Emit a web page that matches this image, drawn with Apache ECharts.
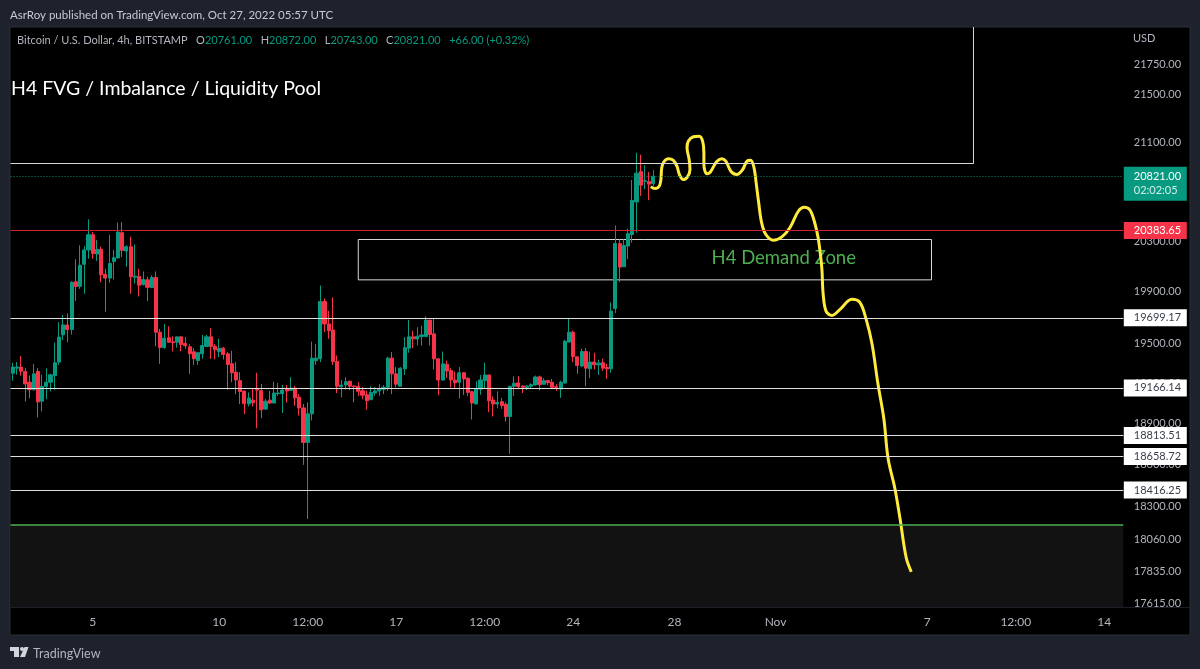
<!DOCTYPE html>
<html>
<head>
<meta charset="utf-8">
<title>BTCUSD H4</title>
<script src="https://cdn.jsdelivr.net/npm/echarts@6/dist/echarts.min.js"></script>
<style>
  html, body { margin: 0; padding: 0; background: #1e222d; }
  #chartContainer { width: 1200px; height: 669px; }
</style>
</head>
<body>
<div id="chartContainer"></div>
<script>
// 4h candles, one row each: [open, close, low, high]
var candles = [
  [19277,19323,19221,19356],[19315,19323,19267,19361],[19323,19292,19259,19406],[19290,19196,19065,19315],
  [19209,19153,19090,19259],[19153,19272,19146,19348],[19290,19062,18947,19315],[19067,19178,18991,19265],
  [19178,19209,19082,19315],[19209,19265,19140,19272],[19259,19356,19153,19508],[19361,19551,19340,19665],
  [19568,19644,19530,19720],[19644,19609,19512,19733],[19609,19976,19571,19984],[19979,19942,19829,20155],
  [19944,20108,19923,20266],[20116,20229,19886,20260],[20229,20350,20160,20473],[20350,20200,20160,20371],
  [20197,20234,20142,20308],[20234,20034,19976,20255],[20037,20008,19746,20081],[20008,20123,19971,20350],
  [20139,20168,19997,20229],[20166,20371,20160,20446],[20366,20226,20173,20451],[20221,20255,20097,20266],
  [20255,20018,19886,20334],[20015,20023,19965,20273],[20021,19952,19865,20081],[19957,19997,19950,20060],
  [19994,19936,19829,20018],[19934,20013,19929,20029],[20013,19589,19480,20060],[19589,19472,19348,19614],
  [19472,19543,19462,19652],[19546,19512,19508,19634],[19515,19508,19442,19558],[19512,19553,19470,19553],
  [19553,19495,19442,19558],[19503,19485,19462,19551],[19477,19424,19272,19497],[19439,19386,19340,19467],
  [19373,19432,19340,19432],[19424,19487,19386,19568],[19480,19553,19477,19568],[19553,19480,19386,19619],
  [19482,19454,19381,19497],[19442,19465,19399,19538],[19467,19419,19381,19475],[19424,19343,19153,19437],
  [19348,19280,19209,19447],[19285,19226,19120,19361],[19221,19140,19045,19285],[19143,19048,18971,19143],
  [19048,19090,19028,19133],[19075,19055,19028,19158],[19158,19150,18866,19280],[19146,19003,18940,19196],
  [19008,19067,19003,19082],[19075,19053,19045,19143],[19053,19128,19053,19214],[19123,19128,19108,19204],
  [19123,19150,18979,19188],[19158,19143,19057,19188],[19148,19165,19146,19247],[19165,19092,19033,19183],
  [19097,19016,18960,19120],[19017,18762,18598,19046],[18762,18973,18208,19059],[18973,19391,18924,19517],
  [19371,19391,19340,19500],[19386,19825,19361,19950],[19825,19652,19589,19850],[19652,19601,19538,19753],
  [19606,19365,19340,19857],[19365,19179,19128,19411],[19175,19188,19095,19226],[19188,19213,19153,19247],
  [19217,19179,19150,19221],[19181,19176,19059,19183],[19179,19141,19107,19209],[19145,19112,19082,19171],
  [19115,19070,19004,19145],[19078,19133,19076,19179],[19128,19143,19107,19171],[19143,19156,19107,19194],
  [19156,19171,19120,19188],[19171,19391,19145,19400],[19391,19272,19120,19437],[19272,19194,19171,19323],
  [19179,19315,19179,19323],[19310,19470,19264,19551],[19467,19553,19432,19682],[19553,19538,19467,19601],
  [19536,19558,19487,19627],[19555,19568,19487,19639],[19555,19682,19551,19711],[19682,19571,19487,19682],
  [19576,19386,19305,19690],[19386,19226,19112,19386],[19226,19348,19221,19441],[19343,19293,19242,19373],
  [19297,19226,19171,19315],[19226,19204,19163,19289],[19209,19280,19088,19323],[19280,19234,19115,19285],
  [19239,19133,19107,19247],[19138,19054,18931,19145],[19046,19158,19046,19217],[19158,19226,19115,19264],
  [19221,19264,19158,19356],[19264,19070,18985,19264],[19076,19046,18953,19103],[19046,19059,19015,19141],
  [19063,19034,19010,19092],[19044,18953,18916,19059],[18953,19179,18679,19179],[19179,19201,19107,19254],
  [19204,19176,19158,19254],[19181,19171,19128,19183],[19168,19179,19150,19188],[19179,19191,19163,19201],
  [19188,19249,19183,19259],[19249,19191,19150,19259],[19194,19221,19188,19239],[19221,19206,19188,19226],
  [19209,19171,19163,19234],[19176,19171,19145,19196],[19158,19209,19092,19221],[19204,19520,19198,19530],
  [19513,19589,19513,19698],[19589,19403,19361,19601],[19401,19335,19272,19401],[19331,19441,19323,19462],
  [19441,19315,19179,19467],[19310,19361,19239,19441],[19361,19340,19305,19432],[19340,19353,19264,19378],
  [19356,19315,19295,19386],[19320,19310,19234,19348],[19310,19751,19280,19817],[19771,20281,19736,20424],
  [20279,20094,19976,20313],[20097,20265,20097,20313],[20260,20358,20155,20398],[20352,20625,20287,20791],
  [20613,20846,20366,21013],[20859,20748,20662,20997],[20780,20785,20716,20910],[20779,20757,20627,20856],
  [20761,20821,20743,20872]
];

var SLOT_COUNT = 264;
var FIRST_SLOT_TIME = Date.UTC(2022, 9, 1, 20);
var tickSlots = [19, 49, 70, 91, 112, 133, 157, 181, 217, 238, 259];
var tickTexts = ["5", "10", "12:00", "17", "12:00", "24", "28", "Nov", "7", "12:00", "14"];

var priceTicks = [21750, 21500, 21100, 20300, 19900, 19500, 19200, 18900, 18600, 18300, 18060, 17835, 17615];
var PRICE_MIN = 17592;
var PRICE_MAX = 22073;

var lastPrice = 20821;
var lastChange = "+66.00 (+0.32%)";
var countdown = "02:02:05";
var redLevel = 20383.65;
var whiteLevels = [19699.17, 19166.14, 18813.51, 18658.72, 18416.25];
var greenLevel = 18165;
var supplyBottom = 20925;
var supplyEndSlot = 228;
var demandZone = [82, 218, 20312, 19994]; // slot from, slot to, price top, price bottom
var demandLabelAt = [165.7, 20168];

// the hand drawn yellow path: position in candle slots and price
var pathSlots = [151.4,152.4,153.4,153.8,154.0,154.5,155.6,156.7,157.6,158.2,159.1,160.1,160.7,160.5,160.0,160.3,
  161.5,162.9,163.7,164.0,164.0,164.7,165.5,167.0,168.2,169.2,170.4,171.8,173.2,174.2,175.1,175.9,176.4,177.0,
  177.7,178.7,180.5,182.5,184.4,186.4,187.8,189.2,190.4,191.1,191.6,192.0,192.3,193.0,194.4,196.3,199.1,201.0,
  202.5,203.9,205.3,206.7,207.7,209.3,210.5,212.0,213.2];
var pathPrices = [20735,20721,20740,20794,20890,20939,20964,20952,20903,20835,20794,20816,20876,20958,21054,21109,
  21145,21150,21109,21013,20917,20841,20854,20939,20964,20944,20862,20835,20876,20944,20952,20890,20767,20606,
  20445,20352,20306,20333,20406,20538,20570,20546,20432,20326,20207,20076,19881,19749,19718,19765,19842,19818,
  19687,19497,19195,18935,18644,18429,18217,17934,17836];

var UP = "#089981";
var DOWN = "#f7334a";
var TEXT = "#b2b5be";
var FONT = "Lato, 'Open Sans', sans-serif";

function buildCategories() {
  let out = [];
  for (let i = 0; i < SLOT_COUNT; i++) {
    out.push(new Date(FIRST_SLOT_TIME + i * 4 * 3600 * 1000).toISOString().slice(0, 16));
  }
  return out;
}

// labels in the price scale hang off this edge of the value x axis
var scaleEdge = SLOT_COUNT - 0.5;

function segment(x1, y1, x2, y2, color, width, type) {
  return [
    { coord: [x1, y1], lineStyle: { color: color, width: width, type: type || "solid" } },
    { coord: [x2, y2] },
  ];
}

function flatLine(price, color, width, type) {
  return segment(-0.5, price, scaleEdge, price, color, width, type);
}

function tag(price, text, bg, fg, offsetY) {
  return {
    value: [scaleEdge, price],
    label: {
      show: true,
      position: "right",
      distance: 0,
      offset: [0, offsetY || 0],
      formatter: text,
      backgroundColor: bg,
      color: fg,
      fontFamily: FONT,
      fontSize: 11,
      width: 53,
      padding: [3, 0, 3, 10],
      rich: {
        top: { color: "#ffffff", fontFamily: FONT, fontSize: 11, width: 53, height: 14 },
        bottom: { color: "#d5efe9", fontFamily: FONT, fontSize: 11, width: 53, height: 14 },
      },
    },
  };
}

var last = candles[candles.length - 1];

var option = {
  animation: false,
  backgroundColor: "#1e222d",
  grid: { left: 10.5, top: 27, width: 1112.8, height: 580, containLabel: false },
  xAxis: [
    {
      type: "category",
      data: buildCategories(),
      axisLine: { show: false },
      axisTick: { show: false },
      splitLine: { show: false },
      axisLabel: {
        color: TEXT,
        fontFamily: FONT,
        fontSize: 12,
        margin: 9,
        interval: (i) => tickSlots.includes(i),
        formatter: (value, i) => tickTexts[tickSlots.indexOf(i)],
      },
    },
    { type: "value", min: -0.5, max: scaleEdge, show: false },
  ],
  yAxis: {
    type: "log",
    min: PRICE_MIN,
    max: PRICE_MAX,
    axisLine: { show: false },
    axisTick: { show: false },
    axisLabel: { show: false },
    splitLine: { show: false },
  },
  series: [
    {
      name: "zones",
      type: "line",
      xAxisIndex: 1,
      data: [],
      z: 1,
      markArea: {
        silent: true,
        data: [
          [
            { xAxis: -0.5, yAxis: greenLevel, itemStyle: { color: "#121212", borderWidth: 0 } },
            { xAxis: scaleEdge, yAxis: PRICE_MIN },
          ],
        ],
      },
    },
    {
      name: "BTCUSD",
      type: "candlestick",
      data: candles,
      barWidth: 3.6,
      z: 2,
      itemStyle: { color: UP, color0: DOWN, borderColor: UP, borderColor0: DOWN, borderWidth: 1 },
    },
    {
      name: "demandLabel",
      type: "scatter",
      xAxisIndex: 1,
      clip: false,
      symbolSize: 1,
      itemStyle: { color: "transparent", opacity: 1 },
      z: 3,
      silent: true,
      label: {
        show: true,
        position: "right",
        distance: 0,
        formatter: "H4 Demand Zone",
        color: "#4caf50",
        fontFamily: FONT,
        fontSize: 18.5,
      },
      data: [demandLabelAt],
    },
    {
      name: "drawings",
      type: "line",
      xAxisIndex: 1,
      data: pathSlots.map((s, i) => [s, pathPrices[i]]),
      smooth: 0.35,
      showSymbol: false,
      symbol: "none",
      z: 4,
      lineStyle: { color: "#ffeb3b", width: 3 },
      markLine: {
        silent: true,
        symbol: "none",
        label: { show: false },
        data: [
          flatLine(lastPrice, "#0a8a74", 1, [1, 2]),
          flatLine(redLevel, "#d5202f", 1.2),
          flatLine(greenLevel, "#4caf50", 1.5),
        ]
          .concat(whiteLevels.map((p) => flatLine(p, "#e0e0e0", 1.2)))
          .concat([
            segment(-0.5, supplyBottom, supplyEndSlot, supplyBottom, "#d8d8d8", 1),
            segment(supplyEndSlot, supplyBottom, supplyEndSlot, PRICE_MAX, "#d8d8d8", 1),
          ]),
      },
      markArea: {
        silent: true,
        data: [
          [
            {
              xAxis: demandZone[0],
              yAxis: demandZone[2],
              itemStyle: { color: "rgba(0,0,0,0)", borderColor: "#d8d8d8", borderWidth: 1 },
            },
            { xAxis: demandZone[1], yAxis: demandZone[3] },
          ],
        ],
      },
    },
    {
      name: "priceTicks",
      type: "scatter",
      xAxisIndex: 1,
      clip: false,
      symbolSize: 1,
      itemStyle: { color: "transparent", opacity: 1 },
      z: 5,
      silent: true,
      label: {
        show: true,
        position: "right",
        distance: 10,
        color: TEXT,
        fontFamily: FONT,
        fontSize: 11,
        formatter: (p) => p.value[1].toFixed(2),
      },
      data: priceTicks.map((p) => [scaleEdge, p]),
    },
    {
      name: "priceTags",
      type: "scatter",
      xAxisIndex: 1,
      clip: false,
      symbolSize: 1,
      itemStyle: { color: "transparent", opacity: 1 },
      z: 6,
      silent: true,
      data: [
        tag(lastPrice, "{top|" + lastPrice.toFixed(2) + "}\n{bottom|" + countdown + "}", UP, "#ffffff", 7.5),
        tag(redLevel, redLevel.toFixed(2), DOWN, "#ffffff"),
      ].concat(whiteLevels.map((p) => tag(p, p.toFixed(2), "#ffffff", "#3a3e4a"))),
    },
  ],
  graphic: [
    // black chart panes behind the plot and the two scales
    {
      type: "rect",
      z: -10,
      shape: { x: 10, y: 27, width: 1180, height: 608 },
      style: { fill: "#000000", stroke: "#2a2e39", lineWidth: 1 },
    },
    { type: "line", z: -9, shape: { x1: 10, y1: 607.5, x2: 1190, y2: 607.5 }, style: { stroke: "#1c1f27", lineWidth: 1 } },
    {
      type: "text",
      x: 10,
      y: 9,
      style: {
        text: "AsrRoy published on TradingView.com, Oct 27, 2022 05:57 UTC",
        fill: "#c8cad2",
        font: "11.5px " + FONT,
      },
    },
    {
      type: "text",
      x: 17,
      y: 35,
      style: {
        text:
          "{g|Bitcoin / U.S. Dollar, 4h, BITSTAMP   O}{v|" + last[0].toFixed(2) +
          "}{g|   H}{v|" + last[3].toFixed(2) +
          "}{g|   L}{v|" + last[2].toFixed(2) +
          "}{g|   C}{v|" + last[1].toFixed(2) +
          "}{v|   " + lastChange + "}",
        rich: {
          g: { fill: TEXT, font: "11px " + FONT },
          v: { fill: UP, font: "11px " + FONT },
        },
      },
    },
    {
      type: "text",
      x: 11,
      y: 79,
      style: { text: "H4 FVG / Imbalance / Liquidity Pool", fill: "#ffffff", font: "19.5px " + FONT },
    },
    {
      type: "text",
      x: 1133,
      y: 33,
      style: { text: "USD", fill: TEXT, font: "11px " + FONT },
    },
    // TradingView mark
    { type: "rect", shape: { x: 10, y: 647, width: 9, height: 4 }, style: { fill: "#d1d4dc" } },
    { type: "rect", shape: { x: 14, y: 651, width: 5, height: 6 }, style: { fill: "#d1d4dc" } },
    { type: "circle", shape: { cx: 22, cy: 649, r: 2 }, style: { fill: "#d1d4dc" } },
    {
      type: "polygon",
      shape: { points: [[24.5, 647], [28.5, 647], [25, 657], [20, 657]] },
      style: { fill: "#d1d4dc" },
    },
    {
      type: "text",
      x: 33,
      y: 647,
      style: { text: "TradingView", fill: "#b2b5be", font: "12.5px " + FONT },
    },
  ],
};

var CHART;
window.onload = (_) => {
  CHART = echarts.init(document.getElementById("chartContainer"), null, { renderer: "canvas" });
  CHART.setOption(option);
};
</script>
</body>
</html>
